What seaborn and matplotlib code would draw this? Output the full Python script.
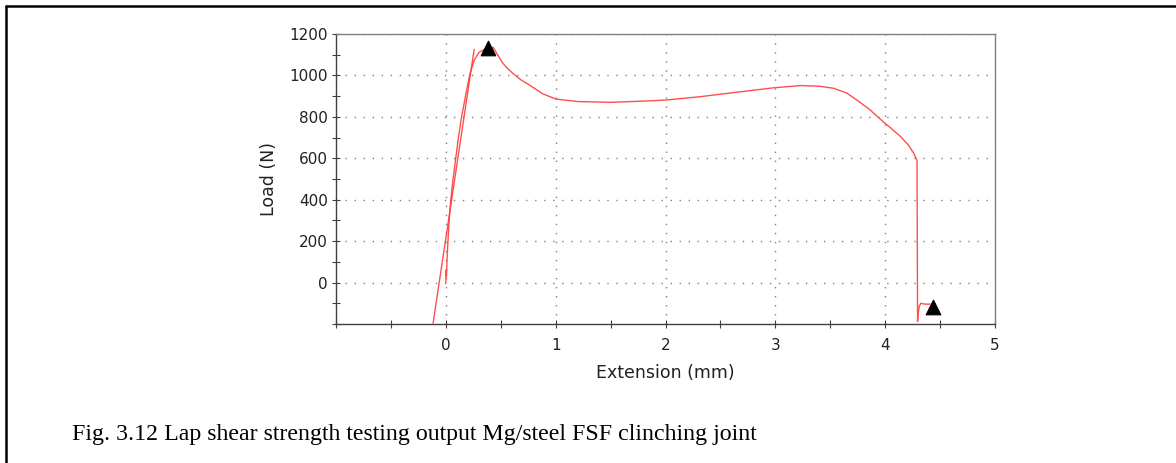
import numpy as np
import pandas as pd
import matplotlib
matplotlib.use("Agg")
import matplotlib.pyplot as plt
import seaborn as sns
from matplotlib.lines import Line2D

# ---- data ----
curve_ext = [0.000, 0.002, 0.006, 0.012, 0.020, 0.030, 0.045, 0.065, 0.090, 0.115, 0.140,
             0.165, 0.190, 0.220, 0.260, 0.300, 0.340, 0.390, 0.430, 0.460, 0.520, 0.560,
             0.610, 0.680, 0.760, 0.880, 1.000, 1.200, 1.500, 1.800, 2.000, 2.310, 2.620,
             2.980, 3.230, 3.400, 3.530, 3.650, 3.740, 3.860, 3.980, 4.060, 4.140, 4.210,
             4.260, 4.290, 4.295, 4.300, 4.310, 4.325, 4.360, 4.410]
curve_load = [0, 60, 30, 125, 206, 300, 400, 496, 600, 700, 790,
              860, 930, 1010, 1075, 1110, 1122, 1130, 1136, 1110, 1058, 1035,
              1010, 980, 954, 912, 886, 874, 870, 876, 881, 897, 917,
              940, 951, 948, 938, 915, 882, 835, 777, 742, 705, 665,
              624, 590, -188, -150, -116, -100, -104, -104]

fit_ext = [-0.116, 0.258]
fit_load = [-196, 1126]

marker_ext = [0.386, 4.44]
marker_load = [1131, -116]

x_ticks = [0, 1, 2, 3, 4, 5]
y_ticks = [0, 200, 400, 600, 800, 1000, 1200]

curve = pd.DataFrame({"Extension": curve_ext, "Load": curve_load})
fit = pd.DataFrame({"Extension": fit_ext, "Load": fit_load})
marks = pd.DataFrame({"Extension": marker_ext, "Load": marker_load})

sns.set_style("white")
plt.rcParams['font.family'] = ['DejaVu Sans']

fig = plt.figure(figsize=(11.76, 4.63), dpi=100)
ax = fig.add_axes([336 / 1176, 1 - 324 / 463, (995 - 336) / 1176, (324 - 34) / 463])

red = "#ff3b3b"
sns.lineplot(data=fit, x="Extension", y="Load", ax=ax, color=red, lw=1.0,
             sort=False, estimator=None, alpha=0.9)
sns.lineplot(data=curve, x="Extension", y="Load", ax=ax, color=red, lw=1.0,
             sort=False, estimator=None, alpha=0.9)
sns.scatterplot(data=marks, x="Extension", y="Load", ax=ax, marker="^", s=110,
                color="black", edgecolor="black", zorder=5)

ax.set_xlim(-1, 5)
ax.set_ylim(-200, 1200)
ax.set_xticks(np.arange(-1, 5.01, 0.5), minor=True)
ax.set_xticks(x_ticks)
ax.set_yticks(np.arange(-200, 1201, 100), minor=True)
ax.set_yticks(y_ticks)
ax.set_xticklabels([str(t) for t in x_ticks])
ax.set_yticklabels([str(t) for t in y_ticks])
ax.tick_params(axis="both", which="both", direction="inout", length=5.5, width=0.8,
               color="#404040", labelsize=11, labelcolor="#222222",
               bottom=True, left=True, top=False, right=False)
ax.tick_params(axis="x", which="major", pad=7)
ax.tick_params(axis="y", which="major", pad=3)

ax.grid(True, which="major", color="#808080", linestyle=(0, (1, 5.5)), lw=1.0)
ax.set_axisbelow(True)

for s in ["left", "bottom"]:
    ax.spines[s].set_color("#404040")
    ax.spines[s].set_linewidth(1.0)
for s in ["top", "right"]:
    ax.spines[s].set_color("#808080")
    ax.spines[s].set_linewidth(1.0)

ax.set_xlabel("Extension (mm)", fontsize=12.5, color="#222222", labelpad=8)
ax.set_ylabel("Load (N)", fontsize=12.5, color="#222222", labelpad=8)

fig.text(72 / 1176, 1 - 440 / 463,
         "Fig. 3.12 Lap shear strength testing output Mg/steel FSF clinching joint",
         family="Liberation Serif", fontsize=17.2, color="black", va="baseline", ha="left")

# document frame (top and left border)
fig.add_artist(Line2D([6 / 1176, 1.0], [1 - 6 / 463, 1 - 6 / 463], transform=fig.transFigure,
                      color="black", lw=1.8))
fig.add_artist(Line2D([6 / 1176, 6 / 1176], [0, 1 - 6 / 463], transform=fig.transFigure,
                      color="black", lw=1.8))

fig.savefig("out.png", dpi=100)
